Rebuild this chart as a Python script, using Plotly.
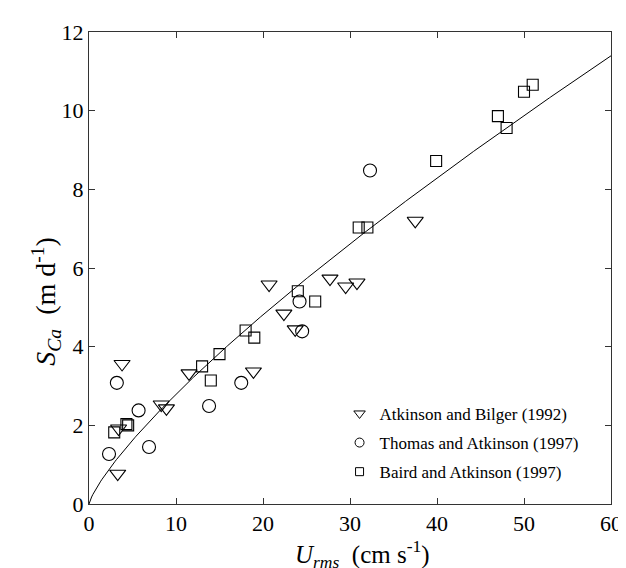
import numpy as np
import plotly.graph_objects as go

# Atkinson and Bilger (1992)
ab_u = [3.3, 3.4, 3.8, 8.3, 8.9, 11.5, 18.9, 20.7, 22.4, 23.7, 27.7, 29.5, 30.8, 37.5]
ab_s = [0.77, 1.92, 3.56, 2.53, 2.43, 3.32, 3.37, 5.58, 4.84, 4.44, 5.73, 5.53, 5.63, 7.20]

# Thomas and Atkinson (1997)
ta_u = [2.3, 3.2, 5.7, 6.9, 13.8, 17.5, 24.2, 24.5, 32.3]
ta_s = [1.27, 3.08, 2.38, 1.45, 2.49, 3.08, 5.15, 4.39, 8.48]

# Baird and Atkinson (1997)
ba_u = [2.9, 4.3, 4.5, 13.0, 14.0, 15.0, 18.0, 19.0, 24.0, 26.0, 31.0, 32.0, 39.9, 47.0, 48.0, 50.0, 51.0]
ba_s = [1.82, 2.03, 2.00, 3.50, 3.14, 3.81, 4.41, 4.23, 5.41, 5.15, 7.03, 7.03, 8.72, 9.86, 9.56, 10.48, 10.66]

series_names = ["Atkinson and Bilger (1992)", "Thomas and Atkinson (1997)", "Baird and Atkinson (1997)"]

# fitted power law S = a * U^b
fit_a = 0.458
fit_b = 0.785

x_ticks = [0, 10, 20, 30, 40, 50, 60]
y_ticks = [0, 2, 4, 6, 8, 10, 12]

fit_u = np.linspace(0, 60, 400)
fit_s = fit_a * fit_u ** fit_b

FONT = "Liberation Serif"

fig = go.Figure()
fig.add_trace(go.Scatter(x=fit_u, y=fit_s, mode="lines",
                         line=dict(color="black", width=1), showlegend=False,
                         hoverinfo="skip"))

specs = [
    (ab_u, ab_s, "triangle-down-open", 14, 10),
    (ta_u, ta_s, "circle-open", 13, 9),
    (ba_u, ba_s, "square-open", 11, 8),
]
for i, (u, s, sym, size, lsize) in enumerate(specs):
    fig.add_trace(go.Scatter(x=u, y=s, mode="markers", showlegend=False,
                             marker=dict(symbol=sym, size=size, color="black",
                                         line=dict(width=1.1))))
for i, (u, s, sym, size, lsize) in enumerate(specs):
    # legend-only entry with the smaller key symbol
    fig.add_trace(go.Scatter(x=[None], y=[None], mode="markers", name=series_names[i],
                             legendgroup=str(i),
                             marker=dict(symbol=sym, size=lsize, color="black",
                                         line=dict(width=1))))

axis_common = dict(
    showgrid=False, zeroline=False, showline=True, linecolor="#333333", linewidth=1,
    mirror="ticks", ticks="inside", ticklen=6, tickcolor="#333333", tickwidth=1,
    tickfont=dict(family=FONT, size=22, color="black"),
)

fig.update_layout(
    width=626, height=568,
    margin=dict(l=81, r=16, t=18, b=72),
    paper_bgcolor="white", plot_bgcolor="white",
    font=dict(family=FONT, color="black"),
    xaxis=dict(range=[0, 60], tickvals=x_ticks, ticktext=[str(v) for v in x_ticks],
               **axis_common),
    yaxis=dict(range=[0, 12], tickvals=y_ticks, ticktext=[str(v) for v in y_ticks],
               **axis_common),
    legend=dict(x=0.48, y=0.229, xanchor="left", yanchor="top",
                font=dict(family=FONT, size=17), bgcolor="rgba(0,0,0,0)",
                traceorder="grouped", tracegroupgap=4, itemsizing="trace"),
    showlegend=True,
    annotations=[
        dict(text="<i>U<sub>rms</sub></i>&nbsp; (cm s<sup>-1</sup>)",
             xref="paper", yref="paper", x=0.523, y=-0.148,
             xanchor="center", yanchor="bottom", showarrow=False,
             font=dict(family=FONT, size=25, color="black")),
        dict(text="<i>S<sub>Ca</sub></i>&nbsp; (m d<sup>-1</sup>)",
             xref="paper", yref="paper", x=-0.083, y=0.43,
             xanchor="center", yanchor="middle", textangle=-90, showarrow=False,
             font=dict(family=FONT, size=28, color="black")),
    ],
)

fig.write_html("out.html")
